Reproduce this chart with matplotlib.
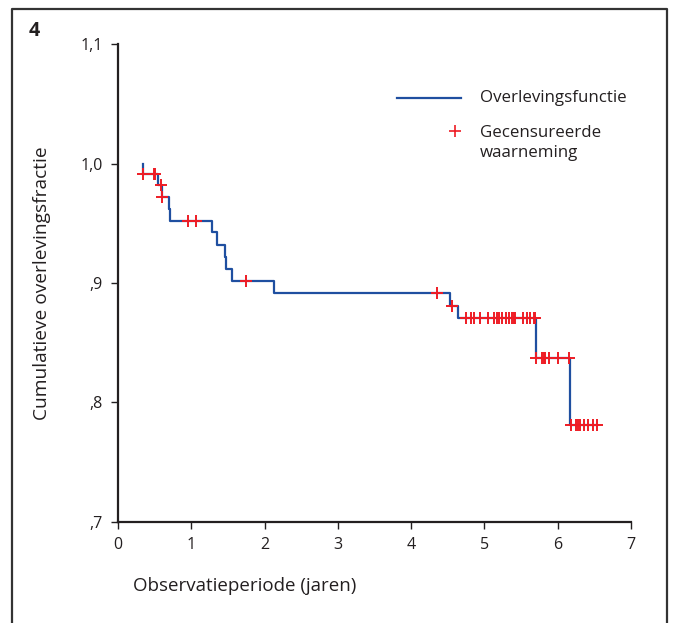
import numpy as np
import matplotlib
matplotlib.use("Agg")
import matplotlib.pyplot as plt
from matplotlib.lines import Line2D

plt.rcParams['font.family'] = ['Open Sans', 'DejaVu Sans']

# step function: time of each drop and the level after it
event_t = [0.0, 0.34, 0.54, 0.60, 0.69, 0.705, 1.28, 1.355, 1.455, 1.48, 1.555,
           2.13, 4.535, 4.64, 5.70, 6.17]
event_s = [1.0, 0.991, 0.982, 0.972, 0.962, 0.952, 0.943, 0.932, 0.922, 0.912, 0.902,
           0.892, 0.881, 0.871, 0.837, 0.781]
end_t = 6.54

# censored observations (years)
cens_t = [0.34, 0.495, 0.51, 0.58, 0.605, 0.96, 1.06, 1.745, 4.35, 4.56,
          4.75, 4.81, 4.86, 4.94, 5.05, 5.13, 5.17, 5.20, 5.24, 5.29, 5.33, 5.37,
          5.40, 5.42, 5.53, 5.58, 5.62, 5.67, 5.695,
          5.71, 5.79, 5.81, 5.83, 5.875, 6.0, 6.15,
          6.18, 6.25, 6.28, 6.31, 6.36, 6.42, 6.48, 6.54]

yticks = [0.7, 0.8, 0.9, 1.0, 1.1]
ytick_labels = [',7', ',8', ',9', '1,0', '1,1']

dark = '#231f20'
blue = '#1f4fa0'
red = '#ee1c25'

fig = plt.figure(figsize=(6.73, 6.23), dpi=100)
ax = fig.add_axes([118/673, 1-522/623, 513/673, 478/623])

# survival curve starts at the first drop
xs = event_t[1:] + [end_t]
ys = event_s[1:] + [event_s[-1]]
ax.plot([event_t[1], event_t[1]], [event_s[0], event_s[1]], color=blue, lw=1.6)
ax.step(xs, ys, where='post', color=blue, lw=1.6)


def level(t):
    idx = np.searchsorted(event_t, t, side='right') - 1
    return event_s[idx]


cens_s = [level(t) for t in cens_t]
ax.plot(cens_t, cens_s, '+', color=red, ms=8, mew=1.4, zorder=3)

ax.set_xlim(0, 7)
ax.set_ylim(0.7, 1.1)
ax.set_xticks(range(8))
ax.set_yticks(yticks)
ax.set_yticklabels(ytick_labels)
for s in ['top', 'right']:
    ax.spines[s].set_visible(False)
for s in ['left', 'bottom']:
    ax.spines[s].set_color(dark)
    ax.spines[s].set_linewidth(1.6)
ax.tick_params(direction='out', length=5, width=1.0, color=dark, labelsize=11.5,
               labelcolor=dark, pad=6)

fig.text(42/673, 1-283/623, 'Cumulatieve overlevingsfractie', rotation=90,
         ha='center', va='center', fontsize=13.8, color=dark)
fig.text(133/673, 1-586/623, 'Observatieperiode (jaren)', ha='left', va='center',
         fontsize=13.5, color=dark)
fig.text(29/673, 1-31/623, '4', ha='left', va='center', fontsize=14,
         fontweight='bold', color=dark)

# legend drawn by hand
fig.add_artist(Line2D([397/673, 461/673], [1-98/623, 1-98/623], color=blue, lw=1.6))
fig.add_artist(Line2D([455/673], [1-131/623], marker='+', color=red, ms=8, mew=1.2))
fig.text(480/673, 1-98/623, 'Overlevingsfunctie', ha='left', va='center',
         fontsize=12.2, color=dark)
fig.text(480/673, 1-143/623, 'Gecensureerde\nwaarneming', ha='left', va='center',
         fontsize=12.2, color=dark, linespacing=1.4)

# outer frame (open at the bottom)
fc = '#333333'
fig.add_artist(Line2D([12/673, 12/673, 667/673, 667/673],
                      [0, 1-9/623, 1-9/623, 0], color=fc, lw=1.6))

fig.savefig('out.png', dpi=100)
